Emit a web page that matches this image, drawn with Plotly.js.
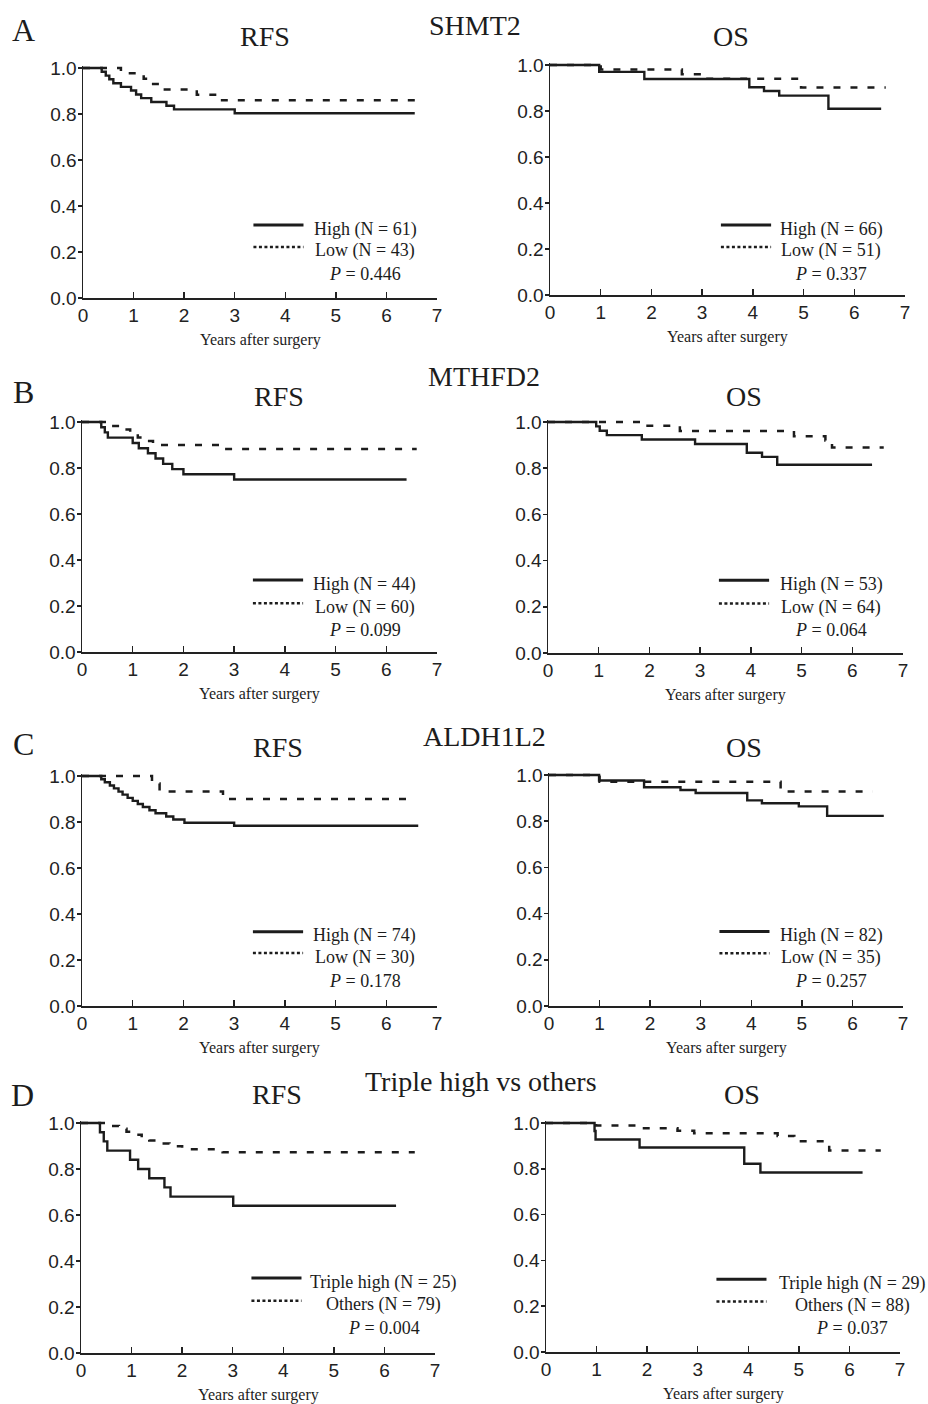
<!DOCTYPE html>
<html><head><meta charset="utf-8">
<script src="https://cdn.plot.ly/plotly-3.0.1.min.js"></script>
<style>html,body{margin:0;padding:0;background:#fff}#chart{width:928px;height:1404px}</style>
</head><body><div id="chart"></div>
<script>
// ---------------- DATA ----------------
const panelLetters = ["A", "B", "C", "D"];
const geneTitles = ["SHMT2", "MTHFD2", "ALDH1L2", "Triple high vs others"];
const endpointTitles = ["RFS", "OS"];
const xTickVals = [0, 1, 2, 3, 4, 5, 6, 7];
const yTickVals = [0, 0.2, 0.4, 0.6, 0.8, 1.0];
const xAxisTitle = "Years after surgery";

// Row A: SHMT2
const shmt2RfsHighT = [0, 0.37, 0.45, 0.52, 0.6, 0.75, 0.95, 1.05, 1.15, 1.35, 1.65, 1.8, 3.0, 6.56];
const shmt2RfsHighS = [1, 0.984, 0.967, 0.951, 0.934, 0.918, 0.902, 0.885, 0.869, 0.852, 0.836, 0.82, 0.803, 0.803];
const shmt2RfsLowT  = [0, 0.75, 1.2, 1.33, 1.52, 2.25, 2.75, 6.63];
const shmt2RfsLowS  = [1, 0.977, 0.953, 0.93, 0.907, 0.884, 0.86, 0.86];
const shmt2OsHighT  = [0, 0.97, 1.86, 3.93, 4.22, 4.52, 5.49, 6.53];
const shmt2OsHighS  = [1, 0.97, 0.939, 0.903, 0.887, 0.867, 0.81, 0.81];
const shmt2OsLowT   = [0, 1.0, 2.6, 2.95, 4.95, 6.62];
const shmt2OsLowS   = [1, 0.98, 0.96, 0.94, 0.902, 0.902];

// Row B: MTHFD2
const mthfd2RfsHighT = [0, 0.38, 0.45, 0.51, 1.0, 1.12, 1.3, 1.45, 1.6, 1.78, 2.0, 3.0, 6.4];
const mthfd2RfsHighS = [1, 0.977, 0.955, 0.932, 0.909, 0.886, 0.864, 0.841, 0.818, 0.795, 0.773, 0.75, 0.75];
const mthfd2RfsLowT  = [0, 0.55, 0.75, 0.95, 1.1, 1.25, 1.4, 2.78, 6.6];
const mthfd2RfsLowS  = [1, 0.983, 0.967, 0.95, 0.933, 0.917, 0.9, 0.883, 0.883];
const mthfd2OsHighT  = [0, 0.95, 1.02, 1.16, 1.85, 2.9, 3.92, 4.22, 4.52, 6.39];
const mthfd2OsHighS  = [1, 0.981, 0.962, 0.943, 0.924, 0.905, 0.867, 0.849, 0.815, 0.815];
const mthfd2OsLowT   = [0, 1.85, 2.6, 4.85, 5.47, 5.6, 6.62];
const mthfd2OsLowS   = [1, 0.984, 0.961, 0.938, 0.92, 0.89, 0.89];

// Row C: ALDH1L2
const aldhRfsHighT = [0, 0.38, 0.45, 0.55, 0.63, 0.72, 0.8, 0.9, 1.0, 1.1, 1.2, 1.33, 1.45, 1.66, 1.8, 2.02, 3.0, 6.63];
const aldhRfsHighS = [1, 0.986, 0.973, 0.959, 0.946, 0.932, 0.919, 0.905, 0.892, 0.878, 0.865, 0.851, 0.838, 0.824, 0.811, 0.797, 0.784, 0.784];
const aldhRfsLowT  = [0, 1.38, 1.53, 2.78, 6.4];
const aldhRfsLowS  = [1, 0.967, 0.933, 0.9, 0.9];
const aldhOsHighT  = [0, 0.99, 1.88, 2.6, 2.9, 3.92, 4.21, 4.94, 5.5, 6.62];
const aldhOsHighS  = [1, 0.976, 0.947, 0.935, 0.922, 0.89, 0.878, 0.864, 0.823, 0.823];
const aldhOsLowT   = [0, 1.0, 4.58, 6.4];
const aldhOsLowS   = [1, 0.971, 0.929, 0.929];

// Row D: Triple high vs others
const tripleRfsHighT = [0, 0.375, 0.45, 0.52, 0.97, 1.13, 1.35, 1.65, 1.77, 3.01, 6.23];
const tripleRfsHighS = [1, 0.96, 0.92, 0.88, 0.84, 0.8, 0.76, 0.72, 0.68, 0.64, 0.64];
const tripleRfsLowT  = [0, 0.55, 0.75, 0.9, 1.05, 1.2, 1.35, 1.5, 1.75, 2.0, 2.8, 6.6];
const tripleRfsLowS  = [1, 0.987, 0.975, 0.962, 0.949, 0.937, 0.924, 0.911, 0.899, 0.886, 0.873, 0.873];
const tripleOsHighT  = [0, 0.96, 0.98, 1.85, 3.92, 4.24, 6.26];
const tripleOsHighS  = [1, 0.965, 0.928, 0.893, 0.822, 0.784, 0.784];
const tripleOsLowT   = [0, 0.99, 1.85, 2.6, 2.93, 4.58, 4.91, 5.5, 5.6, 6.62];
const tripleOsLowS   = [1, 0.989, 0.977, 0.966, 0.955, 0.943, 0.92, 0.909, 0.88, 0.88];

// Legend labels
const highLabels = ["High (N = 61)", "High (N = 66)", "High (N = 44)", "High (N = 53)",
                    "High (N = 74)", "High (N = 82)", "Triple high (N = 25)", "Triple high (N = 29)"];
const lowLabels  = ["Low (N = 43)", "Low (N = 51)", "Low (N = 60)", "Low (N = 64)",
                    "Low (N = 30)", "Low (N = 35)", "Others (N = 79)", "Others (N = 88)"];
const pValues    = ["0.446", "0.337", "0.099", "0.064", "0.178", "0.257", "0.004", "0.037"];

const curves = [
  [shmt2RfsHighT, shmt2RfsHighS, shmt2RfsLowT, shmt2RfsLowS],
  [shmt2OsHighT, shmt2OsHighS, shmt2OsLowT, shmt2OsLowS],
  [mthfd2RfsHighT, mthfd2RfsHighS, mthfd2RfsLowT, mthfd2RfsLowS],
  [mthfd2OsHighT, mthfd2OsHighS, mthfd2OsLowT, mthfd2OsLowS],
  [aldhRfsHighT, aldhRfsHighS, aldhRfsLowT, aldhRfsLowS],
  [aldhOsHighT, aldhOsHighS, aldhOsLowT, aldhOsLowS],
  [tripleRfsHighT, tripleRfsHighS, tripleRfsLowT, tripleRfsLowS],
  [tripleOsHighT, tripleOsHighS, tripleOsLowT, tripleOsLowS]
];

// ---------------- LAYOUT / STYLE ----------------
const W = 928, H = 1404, YMAX = 1.01;
// plot boxes in pixels: [left, right, y of 1.0, y of 0.0]
const boxes = [
  [83, 437, 68, 298], [550, 905, 65, 295],
  [82, 437, 422, 652], [548, 903, 422, 653],
  [82, 437, 776, 1006], [549, 903, 775, 1006],
  [81, 435, 1123, 1353], [546, 900, 1123, 1352]
];
const endpointPos = [[265, 32], [731, 32], [279, 392], [744, 392], [278, 742], [744, 742], [277, 1089], [742, 1089]];
const genePos = [[475, 20], [484, 371], [484, 731], [481, 1076]];
const letterPos = [[23, 24], [23, 386], [23, 738], [22, 1089]];
// legend y positions (data units) for [solid, dotted, P]
const legendY = [
  [0.317, 0.222, 0.122], [0.304, 0.209, 0.109],
  [0.313, 0.212, 0.113], [0.315, 0.214, 0.115],
  [0.323, 0.230, 0.127], [0.322, 0.228, 0.127],
  [0.326, 0.227, 0.126], [0.318, 0.220, 0.121]
];
const legendTextX = [5.58, 5.55, 5.575, 5.585, 5.575, 5.58, 5.99, 6.06];
const legendLineX = [3.37, 4.36];

const serif = "Liberation Serif, Times New Roman, serif";
const sans = "Liberation Sans, Arial, sans-serif";
const ink = "#1c1c1c";

function px(x) { return x / W; }
function py(y) { return 1 - y / H; }

const data = [];
const layout = {
  width: W, height: H, autosize: false,
  margin: {l: 0, r: 0, t: 0, b: 0},
  paper_bgcolor: "#fff", plot_bgcolor: "rgba(0,0,0,0)",
  showlegend: false,
  annotations: [], shapes: []
};

boxes.forEach((b, i) => {
  const suf = i === 0 ? "" : String(i + 1);
  const [left, right, y1, y0] = b;
  const ytop = y1 - (YMAX - 1) * (y0 - y1);
  const [hT, hS, lT, lS] = curves[i];
  data.push({x: lT, y: lS, xaxis: "x" + suf, yaxis: "y" + suf, mode: "lines",
    line: {shape: "hv", color: ink, width: 2.5, dash: "7px,10px"}, hoverinfo: "skip"});
  data.push({x: hT, y: hS, xaxis: "x" + suf, yaxis: "y" + suf, mode: "lines",
    line: {shape: "hv", color: ink, width: 2.4}, hoverinfo: "skip"});

  layout["xaxis" + suf] = {
    domain: [px(left), px(right)], range: [0, 7], anchor: "y" + suf,
    showline: true, linecolor: "#222", linewidth: 1.5, mirror: false,
    ticks: "inside", ticklen: 6, tickwidth: 1.5, tickcolor: "#222",
    tickvals: xTickVals, showgrid: false, zeroline: false, fixedrange: true,
    tickfont: {family: sans, size: 19, color: "#222"}
  };
  layout["yaxis" + suf] = {
    domain: [py(y0), py(ytop)], range: [0, YMAX], anchor: "x" + suf,
    showline: true, linecolor: "#222", linewidth: 1.5,
    ticks: "outside", ticklen: 4, tickwidth: 1.5, tickcolor: "#222",
    tickvals: yTickVals, tickformat: ".1f", showgrid: false, zeroline: false, fixedrange: true,
    ticklabelstandoff: -3,
    tickfont: {family: sans, size: 19, color: "#222"}
  };

  // endpoint title
  const ep = endpointPos[i];
  layout.annotations.push({text: endpointTitles[i % 2], xref: "paper", yref: "paper",
    x: px(ep[0]), y: py(ep[1] + 5), xanchor: "center", yanchor: "middle", showarrow: false,
    font: {family: serif, size: 28, color: ink}});
  // x axis title
  layout.annotations.push({text: xAxisTitle, xref: "paper", yref: "paper",
    x: px((left + right) / 2), y: py(y0 + 40 + 2), xanchor: "center", yanchor: "middle", showarrow: false,
    font: {family: serif, size: 16, color: ink}});

  // legend
  const ly = legendY[i];
  layout.shapes.push({type: "line", xref: "x" + suf, yref: "y" + suf,
    x0: legendLineX[0], x1: legendLineX[1], y0: ly[0], y1: ly[0], line: {color: ink, width: 3}});
  layout.shapes.push({type: "line", xref: "x" + suf, yref: "y" + suf,
    x0: legendLineX[0], x1: legendLineX[1], y0: ly[1], y1: ly[1], line: {color: ink, width: 2.5, dash: "3px,2.5px"}});
  const txts = [highLabels[i], lowLabels[i], "<i>P</i> = " + pValues[i]];
  txts.forEach((t, k) => {
    layout.annotations.push({text: t, xref: "x" + suf, yref: "y" + suf,
      x: legendTextX[i], y: ly[k], yshift: -4, xanchor: "center", yanchor: "middle", showarrow: false,
      font: {family: serif, size: 18, color: ink}});
  });
});

geneTitles.forEach((g, r) => {
  layout.annotations.push({text: g, xref: "paper", yref: "paper",
    x: px(genePos[r][0]), y: py(genePos[r][1] + 5), xanchor: "center", yanchor: "middle", showarrow: false,
    font: {family: serif, size: 28, color: ink}});
  layout.annotations.push({text: panelLetters[r], xref: "paper", yref: "paper",
    x: px(letterPos[r][0]), y: py(letterPos[r][1] + 6), xanchor: "center", yanchor: "middle", showarrow: false,
    font: {family: serif, size: 32, color: ink}});
});

Plotly.newPlot("chart", data, layout, {staticPlot: true, displayModeBar: false});
</script>
</body></html>
